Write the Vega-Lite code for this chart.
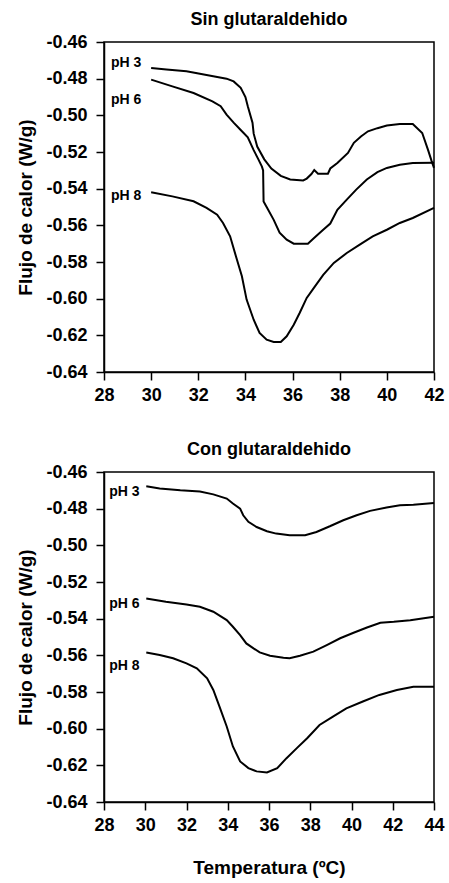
{
  "$schema": "https://vega.github.io/schema/vega-lite/v6.json",
  "padding": {"left": 16, "top": 10, "right": 5, "bottom": 5},
  "spacing": 35,
  "config": {
    "font": "Liberation Sans",
    "view": {"stroke": "black", "strokeWidth": 1.5},
    "axis": {
      "labelFont": "Liberation Sans", "labelFontWeight": "bold", "labelFontSize": 18, "labelColor": "black",
      "titleFont": "Liberation Sans", "titleFontSize": 19, "titleFontWeight": "bold", "titleColor": "black",
      "domainColor": "black", "domainWidth": 1.5, "tickColor": "black", "tickWidth": 1.5, "tickSize": 8,
      "grid": false, "labelPadding": 4, "labelOverlap": false
    },
    "title": {"font": "Liberation Sans", "fontSize": 18, "fontWeight": "bold", "color": "black", "anchor": "middle", "offset": 4}
  },
  "datasets": {
    "sin": [
      {"ph": "pH 3", "t": 30, "f": -0.4742}, {"ph": "pH 3", "t": 30.65, "f": -0.475}, {"ph": "pH 3", "t": 31.5, "f": -0.476}, {"ph": "pH 3", "t": 32.35, "f": -0.478}, {"ph": "pH 3", "t": 33.2, "f": -0.48}, {"ph": "pH 3", "t": 33.5, "f": -0.4815}, {"ph": "pH 3", "t": 33.8, "f": -0.485}, {"ph": "pH 3", "t": 34.0, "f": -0.49}, {"ph": "pH 3", "t": 34.1, "f": -0.495}, {"ph": "pH 3", "t": 34.3, "f": -0.504}, {"ph": "pH 3", "t": 34.35, "f": -0.51}, {"ph": "pH 3", "t": 34.5, "f": -0.517}, {"ph": "pH 3", "t": 34.8, "f": -0.524}, {"ph": "pH 3", "t": 35.1, "f": -0.529}, {"ph": "pH 3", "t": 35.5, "f": -0.533}, {"ph": "pH 3", "t": 35.9, "f": -0.535}, {"ph": "pH 3", "t": 36.45, "f": -0.5355}, {"ph": "pH 3", "t": 36.6, "f": -0.5345}, {"ph": "pH 3", "t": 36.8, "f": -0.532}, {"ph": "pH 3", "t": 36.92, "f": -0.5298}, {"ph": "pH 3", "t": 37.08, "f": -0.5318}, {"ph": "pH 3", "t": 37.5, "f": -0.5318}, {"ph": "pH 3", "t": 37.6, "f": -0.529}, {"ph": "pH 3", "t": 37.9, "f": -0.526}, {"ph": "pH 3", "t": 38.35, "f": -0.5205}, {"ph": "pH 3", "t": 38.6, "f": -0.515}, {"ph": "pH 3", "t": 38.9, "f": -0.5115}, {"ph": "pH 3", "t": 39.2, "f": -0.5087}, {"ph": "pH 3", "t": 39.6, "f": -0.507}, {"ph": "pH 3", "t": 40.0, "f": -0.5056}, {"ph": "pH 3", "t": 40.55, "f": -0.5047}, {"ph": "pH 3", "t": 41.1, "f": -0.5047}, {"ph": "pH 3", "t": 41.5, "f": -0.5096}, {"ph": "pH 3", "t": 41.75, "f": -0.519}, {"ph": "pH 3", "t": 41.9, "f": -0.525}, {"ph": "pH 3", "t": 42, "f": -0.5287},
      {"ph": "pH 6", "t": 30, "f": -0.4805}, {"ph": "pH 6", "t": 30.9, "f": -0.4842}, {"ph": "pH 6", "t": 31.8, "f": -0.4878}, {"ph": "pH 6", "t": 32.6, "f": -0.4924}, {"ph": "pH 6", "t": 32.95, "f": -0.495}, {"ph": "pH 6", "t": 33.2, "f": -0.4996}, {"ph": "pH 6", "t": 33.5, "f": -0.504}, {"ph": "pH 6", "t": 33.8, "f": -0.508}, {"ph": "pH 6", "t": 34.1, "f": -0.512}, {"ph": "pH 6", "t": 34.35, "f": -0.519}, {"ph": "pH 6", "t": 34.55, "f": -0.524}, {"ph": "pH 6", "t": 34.7, "f": -0.528}, {"ph": "pH 6", "t": 34.75, "f": -0.53}, {"ph": "pH 6", "t": 34.77, "f": -0.547}, {"ph": "pH 6", "t": 34.9, "f": -0.55}, {"ph": "pH 6", "t": 35.2, "f": -0.557}, {"ph": "pH 6", "t": 35.45, "f": -0.564}, {"ph": "pH 6", "t": 35.75, "f": -0.5678}, {"ph": "pH 6", "t": 36.05, "f": -0.57}, {"ph": "pH 6", "t": 36.65, "f": -0.57}, {"ph": "pH 6", "t": 36.9, "f": -0.567}, {"ph": "pH 6", "t": 37.3, "f": -0.5624}, {"ph": "pH 6", "t": 37.6, "f": -0.559}, {"ph": "pH 6", "t": 37.9, "f": -0.5515}, {"ph": "pH 6", "t": 38.3, "f": -0.546}, {"ph": "pH 6", "t": 38.7, "f": -0.5405}, {"ph": "pH 6", "t": 39.15, "f": -0.535}, {"ph": "pH 6", "t": 39.6, "f": -0.531}, {"ph": "pH 6", "t": 40.0, "f": -0.5287}, {"ph": "pH 6", "t": 40.55, "f": -0.527}, {"ph": "pH 6", "t": 41.1, "f": -0.526}, {"ph": "pH 6", "t": 42, "f": -0.5258},
      {"ph": "pH 8", "t": 30, "f": -0.542}, {"ph": "pH 8", "t": 30.9, "f": -0.5442}, {"ph": "pH 8", "t": 31.8, "f": -0.5469}, {"ph": "pH 8", "t": 32.35, "f": -0.5505}, {"ph": "pH 8", "t": 32.8, "f": -0.5542}, {"ph": "pH 8", "t": 33.05, "f": -0.5587}, {"ph": "pH 8", "t": 33.35, "f": -0.566}, {"ph": "pH 8", "t": 33.6, "f": -0.577}, {"ph": "pH 8", "t": 33.85, "f": -0.5878}, {"ph": "pH 8", "t": 34.05, "f": -0.6005}, {"ph": "pH 8", "t": 34.35, "f": -0.6115}, {"ph": "pH 8", "t": 34.6, "f": -0.6187}, {"ph": "pH 8", "t": 34.9, "f": -0.6224}, {"ph": "pH 8", "t": 35.2, "f": -0.6236}, {"ph": "pH 8", "t": 35.5, "f": -0.6236}, {"ph": "pH 8", "t": 35.75, "f": -0.6205}, {"ph": "pH 8", "t": 36.05, "f": -0.6142}, {"ph": "pH 8", "t": 36.3, "f": -0.6078}, {"ph": "pH 8", "t": 36.6, "f": -0.5996}, {"ph": "pH 8", "t": 36.95, "f": -0.5933}, {"ph": "pH 8", "t": 37.3, "f": -0.587}, {"ph": "pH 8", "t": 37.75, "f": -0.5805}, {"ph": "pH 8", "t": 38.3, "f": -0.5751}, {"ph": "pH 8", "t": 38.85, "f": -0.5705}, {"ph": "pH 8", "t": 39.4, "f": -0.566}, {"ph": "pH 8", "t": 40.0, "f": -0.5624}, {"ph": "pH 8", "t": 40.55, "f": -0.5587}, {"ph": "pH 8", "t": 41.1, "f": -0.556}, {"ph": "pH 8", "t": 42, "f": -0.5505}
    ],
    "con": [
      {"ph": "pH 3", "t": 30.05, "f": -0.4678}, {"ph": "pH 3", "t": 30.7, "f": -0.469}, {"ph": "pH 3", "t": 31.7, "f": -0.47}, {"ph": "pH 3", "t": 32.65, "f": -0.4706}, {"ph": "pH 3", "t": 33.3, "f": -0.4722}, {"ph": "pH 3", "t": 33.95, "f": -0.4745}, {"ph": "pH 3", "t": 34.25, "f": -0.4772}, {"ph": "pH 3", "t": 34.6, "f": -0.48}, {"ph": "pH 3", "t": 34.75, "f": -0.4836}, {"ph": "pH 3", "t": 35.0, "f": -0.4872}, {"ph": "pH 3", "t": 35.4, "f": -0.49}, {"ph": "pH 3", "t": 35.9, "f": -0.4923}, {"ph": "pH 3", "t": 36.35, "f": -0.4936}, {"ph": "pH 3", "t": 37.0, "f": -0.4945}, {"ph": "pH 3", "t": 37.75, "f": -0.4945}, {"ph": "pH 3", "t": 38.3, "f": -0.4927}, {"ph": "pH 3", "t": 38.95, "f": -0.4896}, {"ph": "pH 3", "t": 39.6, "f": -0.4863}, {"ph": "pH 3", "t": 40.25, "f": -0.4836}, {"ph": "pH 3", "t": 40.9, "f": -0.4812}, {"ph": "pH 3", "t": 41.7, "f": -0.4794}, {"ph": "pH 3", "t": 42.35, "f": -0.4782}, {"ph": "pH 3", "t": 43.0, "f": -0.4778}, {"ph": "pH 3", "t": 44, "f": -0.4769},
      {"ph": "pH 6", "t": 30.05, "f": -0.529}, {"ph": "pH 6", "t": 31.0, "f": -0.5308}, {"ph": "pH 6", "t": 32.0, "f": -0.5323}, {"ph": "pH 6", "t": 32.65, "f": -0.5335}, {"ph": "pH 6", "t": 33.3, "f": -0.5362}, {"ph": "pH 6", "t": 33.95, "f": -0.5408}, {"ph": "pH 6", "t": 34.25, "f": -0.5444}, {"ph": "pH 6", "t": 34.6, "f": -0.549}, {"ph": "pH 6", "t": 34.9, "f": -0.5535}, {"ph": "pH 6", "t": 35.25, "f": -0.5562}, {"ph": "pH 6", "t": 35.55, "f": -0.5584}, {"ph": "pH 6", "t": 36.05, "f": -0.5602}, {"ph": "pH 6", "t": 36.7, "f": -0.5613}, {"ph": "pH 6", "t": 37.0, "f": -0.5616}, {"ph": "pH 6", "t": 37.5, "f": -0.5602}, {"ph": "pH 6", "t": 38.15, "f": -0.558}, {"ph": "pH 6", "t": 38.8, "f": -0.5544}, {"ph": "pH 6", "t": 39.45, "f": -0.5507}, {"ph": "pH 6", "t": 40.1, "f": -0.5477}, {"ph": "pH 6", "t": 40.75, "f": -0.5448}, {"ph": "pH 6", "t": 41.4, "f": -0.5422}, {"ph": "pH 6", "t": 42.05, "f": -0.5417}, {"ph": "pH 6", "t": 42.85, "f": -0.5408}, {"ph": "pH 6", "t": 44, "f": -0.539},
      {"ph": "pH 8", "t": 30.05, "f": -0.5584}, {"ph": "pH 8", "t": 30.7, "f": -0.5598}, {"ph": "pH 8", "t": 31.35, "f": -0.5616}, {"ph": "pH 8", "t": 32.0, "f": -0.5644}, {"ph": "pH 8", "t": 32.5, "f": -0.5671}, {"ph": "pH 8", "t": 33.0, "f": -0.5725}, {"ph": "pH 8", "t": 33.3, "f": -0.5789}, {"ph": "pH 8", "t": 33.6, "f": -0.588}, {"ph": "pH 8", "t": 33.95, "f": -0.5988}, {"ph": "pH 8", "t": 34.25, "f": -0.6097}, {"ph": "pH 8", "t": 34.6, "f": -0.6179}, {"ph": "pH 8", "t": 35.0, "f": -0.6215}, {"ph": "pH 8", "t": 35.4, "f": -0.6233}, {"ph": "pH 8", "t": 35.9, "f": -0.6239}, {"ph": "pH 8", "t": 36.4, "f": -0.6215}, {"ph": "pH 8", "t": 36.85, "f": -0.6161}, {"ph": "pH 8", "t": 37.35, "f": -0.6106}, {"ph": "pH 8", "t": 37.85, "f": -0.6052}, {"ph": "pH 8", "t": 38.45, "f": -0.598}, {"ph": "pH 8", "t": 39.1, "f": -0.5934}, {"ph": "pH 8", "t": 39.75, "f": -0.5889}, {"ph": "pH 8", "t": 40.55, "f": -0.5852}, {"ph": "pH 8", "t": 41.35, "f": -0.5816}, {"ph": "pH 8", "t": 42.2, "f": -0.5789}, {"ph": "pH 8", "t": 43.0, "f": -0.5771}, {"ph": "pH 8", "t": 44, "f": -0.5771}
    ],
    "sinLabels": [
      {"ph": "pH 3", "t": 28.3, "f": -0.4715}, {"ph": "pH 6", "t": 28.3, "f": -0.4918}, {"ph": "pH 8", "t": 28.3, "f": -0.5438}
    ],
    "conLabels": [
      {"ph": "pH 3", "t": 28.25, "f": -0.4709}, {"ph": "pH 6", "t": 28.25, "f": -0.532}, {"ph": "pH 8", "t": 28.25, "f": -0.566}
    ]
  },
  "vconcat": [
    {
      "width": 330, "height": 330,
      "title": {"text": "Sin glutaraldehido"},
      "layer": [
        {
          "data": {"name": "sin"},
          "mark": {"type": "line", "color": "black", "strokeWidth": 2},
          "encoding": {
            "x": {"field": "t", "type": "quantitative", "scale": {"domain": [28, 42], "nice": false, "zero": false},
                  "axis": {"title": null, "values": [28, 30, 32, 34, 36, 38, 40, 42], "format": "d", "labelFlush": false, "labelOverlap": false, "labelPadding": 6}},
            "y": {"field": "f", "type": "quantitative", "scale": {"domain": [-0.64, -0.46], "nice": false, "zero": false},
                  "axis": {"title": "Flujo de calor (W/g)", "values": [-0.64, -0.62, -0.6, -0.58, -0.56, -0.54, -0.52, -0.5, -0.48, -0.46], "tickCount": 20,
                           "labelExpr": "replace(format(datum.value, '.2f'), '\u2212', '-')", "labelOverlap": false, "labelPadding": 9, "titlePadding": 10, "labelFlush": false}},
            "detail": {"field": "ph"}
          }
        },
        {
          "data": {"name": "sinLabels"},
          "mark": {"type": "text", "align": "left", "baseline": "middle", "fontSize": 14, "fontWeight": "bold", "font": "Liberation Sans", "color": "black"},
          "encoding": {
            "x": {"field": "t", "type": "quantitative"},
            "y": {"field": "f", "type": "quantitative"},
            "text": {"field": "ph"}
          }
        }
      ]
    },
    {
      "width": 330, "height": 330,
      "title": {"text": "Con glutaraldehido"},
      "layer": [
        {
          "data": {"name": "con"},
          "mark": {"type": "line", "color": "black", "strokeWidth": 2},
          "encoding": {
            "x": {"field": "t", "type": "quantitative", "scale": {"domain": [28, 44], "nice": false, "zero": false},
                  "axis": {"title": "Temperatura (ºC)", "values": [28, 30, 32, 34, 36, 38, 40, 42, 44], "format": "d", "labelFlush": false, "labelOverlap": false, "labelPadding": 6, "titlePadding": 24}},
            "y": {"field": "f", "type": "quantitative", "scale": {"domain": [-0.64, -0.46], "nice": false, "zero": false},
                  "axis": {"title": "Flujo de calor (W/g)", "values": [-0.64, -0.62, -0.6, -0.58, -0.56, -0.54, -0.52, -0.5, -0.48, -0.46], "tickCount": 20,
                           "labelExpr": "replace(format(datum.value, '.2f'), '\u2212', '-')", "labelOverlap": false, "labelPadding": 9, "titlePadding": 10, "labelFlush": false}},
            "detail": {"field": "ph"}
          }
        },
        {
          "data": {"name": "conLabels"},
          "mark": {"type": "text", "align": "left", "baseline": "middle", "fontSize": 14, "fontWeight": "bold", "font": "Liberation Sans", "color": "black"},
          "encoding": {
            "x": {"field": "t", "type": "quantitative"},
            "y": {"field": "f", "type": "quantitative"},
            "text": {"field": "ph"}
          }
        }
      ]
    }
  ]
}
